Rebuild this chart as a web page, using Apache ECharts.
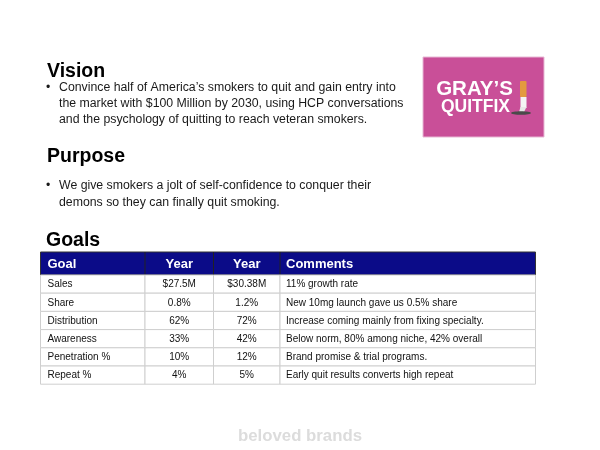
<!DOCTYPE html>
<html>
<head>
<meta charset="utf-8">
<script src="https://cdn.jsdelivr.net/npm/echarts@6/dist/echarts.min.js"></script>
<style>
html,body{margin:0;padding:0;background:#fff;}
#chart{width:600px;height:450px;}
</style>
</head>
<body>
<div id="chart"></div>
<script>
// ---- content ----
const visionTitle = 'Vision';
const visionLines = [
  'Convince half of America\u2019s smokers to quit and gain entry into',
  'the market with $100 Million by 2030, using HCP conversations',
  'and the psychology of quitting to reach veteran smokers.'
];
const purposeTitle = 'Purpose';
const purposeLines = [
  'We give smokers a jolt of self-confidence to conquer their',
  'demons so they can finally quit smoking.'
];
const goalsTitle = 'Goals';
const columns = ['Goal', 'Year', 'Year', 'Comments'];
const goals = ['Sales', 'Share', 'Distribution', 'Awareness', 'Penetration %', 'Repeat %'];
const yearA = ['$27.5M', '0.8%', '62%', '33%', '10%', '4%'];
const yearB = ['$30.38M', '1.2%', '72%', '42%', '12%', '5%'];
const comments = [
  '11% growth rate',
  'New 10mg launch gave us 0.5% share',
  'Increase coming mainly from fixing specialty.',
  'Below norm, 80% among niche, 42% overall',
  'Brand promise & trial programs.',
  'Early quit results converts high repeat'
];
const logoLines = ['GRAY\u2019S', 'QUITFIX'];
const watermark = 'beloved brands';

// ---- layout (not data) ----
const FONT = '"Liberation Sans", Arial, Helvetica, sans-serif';
const tableLeft = 40.5, tableTop = 252, headerH = 23, rowH = 18.2;
const colEdges = [0, 104.5, 173, 239.5, 495];
const colAlign = ['left', 'center', 'center', 'left'];
const colPad = [7, 0, 0, 6];
const NAVY = '#0b0b88';
const GRID = '#cfcfcf';

const cellData = [];
goals.forEach((g, r) => {
  const rowVals = [g, yearA[r], yearB[r], comments[r]];
  rowVals.forEach((v, c) => cellData.push({ value: [c, r], text: v }));
});

function textEl(x, y, text, size, weight, color, align) {
  return {
    type: 'text', x: x, y: y, silent: true,
    style: { text: text, fontFamily: FONT, fontSize: size, fontWeight: weight,
             fill: color, align: align || 'left', verticalAlign: 'middle' }
  };
}

const graphics = [];
// titles
graphics.push(textEl(47, 72, visionTitle, 19.5, 'bold', '#000'));
graphics.push(textEl(47, 156.5, purposeTitle, 19.5, 'bold', '#000'));
graphics.push(textEl(46, 240.5, goalsTitle, 19.5, 'bold', '#000'));
// bullets
function bullets(lines, mid) {
  graphics.push(textEl(46, mid, '\u2022', 12.3, 'normal', '#1a1a1a'));
  lines.forEach((l, i) => graphics.push(textEl(59, mid + i * 16.3, l, 12.3, 'normal', '#1a1a1a')));
}
bullets(visionLines, 87.3);
bullets(purposeLines, 186);

// table header
const tableW = colEdges[colEdges.length - 1];
graphics.push({
  type: 'rect', silent: true,
  shape: { x: tableLeft, y: tableTop, width: tableW, height: headerH },
  style: { fill: NAVY, stroke: '#333', lineWidth: 1 }
});
columns.forEach((c, i) => {
  if (i > 0) {
    graphics.push({ type: 'line', silent: true,
      shape: { x1: tableLeft + colEdges[i], y1: tableTop, x2: tableLeft + colEdges[i], y2: tableTop + headerH },
      style: { stroke: '#222', lineWidth: 1 } });
  }
  const x = colAlign[i] === 'center'
    ? tableLeft + (colEdges[i] + colEdges[i + 1]) / 2
    : tableLeft + colEdges[i] + colPad[i];
  graphics.push(textEl(x, tableTop + 12, c, 13, 'bold', '#fff', colAlign[i]));
});

// logo
const lx = 423, ly = 57, lw = 121, lh = 80;
graphics.push({ type: 'rect', silent: true, shape: { x: lx, y: ly, width: lw, height: lh },
  style: { fill: '#c94f98', stroke: '#e7b8d4', lineWidth: 1 } });
graphics.push(textEl(474.5, 89.5, logoLines[0], 20.5, 900, '#fff', 'center'));
graphics.push(textEl(475.5, 107, logoLines[1], 17.5, 900, '#fff', 'center'));
// cigarette
graphics.push({ type: 'rect', silent: true, shape: { x: 520, y: 81, width: 6.5, height: 16, r: 1 },
  style: { fill: '#e39a3f' } });
graphics.push({ type: 'rect', silent: true, shape: { x: 520.5, y: 97, width: 6, height: 11 },
  style: { fill: '#f4f4f4' } });
graphics.push({ type: 'polygon', silent: true, shape: { points: [[520.5,107],[526.5,107],[524,112],[519,112]] },
  style: { fill: '#e8e8e8' } });
graphics.push({ type: 'ellipse', silent: true, shape: { cx: 521, cy: 113, rx: 10, ry: 1.8 },
  style: { fill: '#4a4a4a' } });

// watermark
graphics.push(textEl(300, 436, watermark, 16.8, 'bold', '#dcdcdc', 'center'));

const option = {
  animation: false,
  backgroundColor: '#fff',
  grid: { left: tableLeft, top: tableTop + headerH, width: tableW, height: rowH * goals.length },
  xAxis: { type: 'value', min: 0, max: tableW, show: false },
  yAxis: { type: 'category', data: goals, inverse: true, show: false },
  series: [{
    type: 'custom',
    silent: true,
    data: cellData,
    renderItem: function (params, api) {
      const c = api.value(0), r = api.value(1);
      const p0 = api.coord([colEdges[c], r]);
      const p1 = api.coord([colEdges[c + 1], r]);
      const h = api.size([0, 1])[1];
      const text = cellData[params.dataIndex].text;
      const tx = colAlign[c] === 'center' ? (p0[0] + p1[0]) / 2 : p0[0] + colPad[c];
      return {
        type: 'group',
        children: [
          { type: 'rect', shape: { x: p0[0], y: p0[1] - h / 2, width: p1[0] - p0[0], height: h },
            style: { fill: '#fff', stroke: GRID, lineWidth: 1 } },
          { type: 'text', x: tx, y: p0[1] + 0.5,
            style: { text: text, fontFamily: FONT, fontSize: 10, fill: '#111',
                     align: colAlign[c], verticalAlign: 'middle' } }
        ]
      };
    }
  }],
  graphic: graphics
};

const chart = echarts.init(document.getElementById('chart'), null, { renderer: 'canvas' });
chart.setOption(option);
</script>
</body>
</html>
